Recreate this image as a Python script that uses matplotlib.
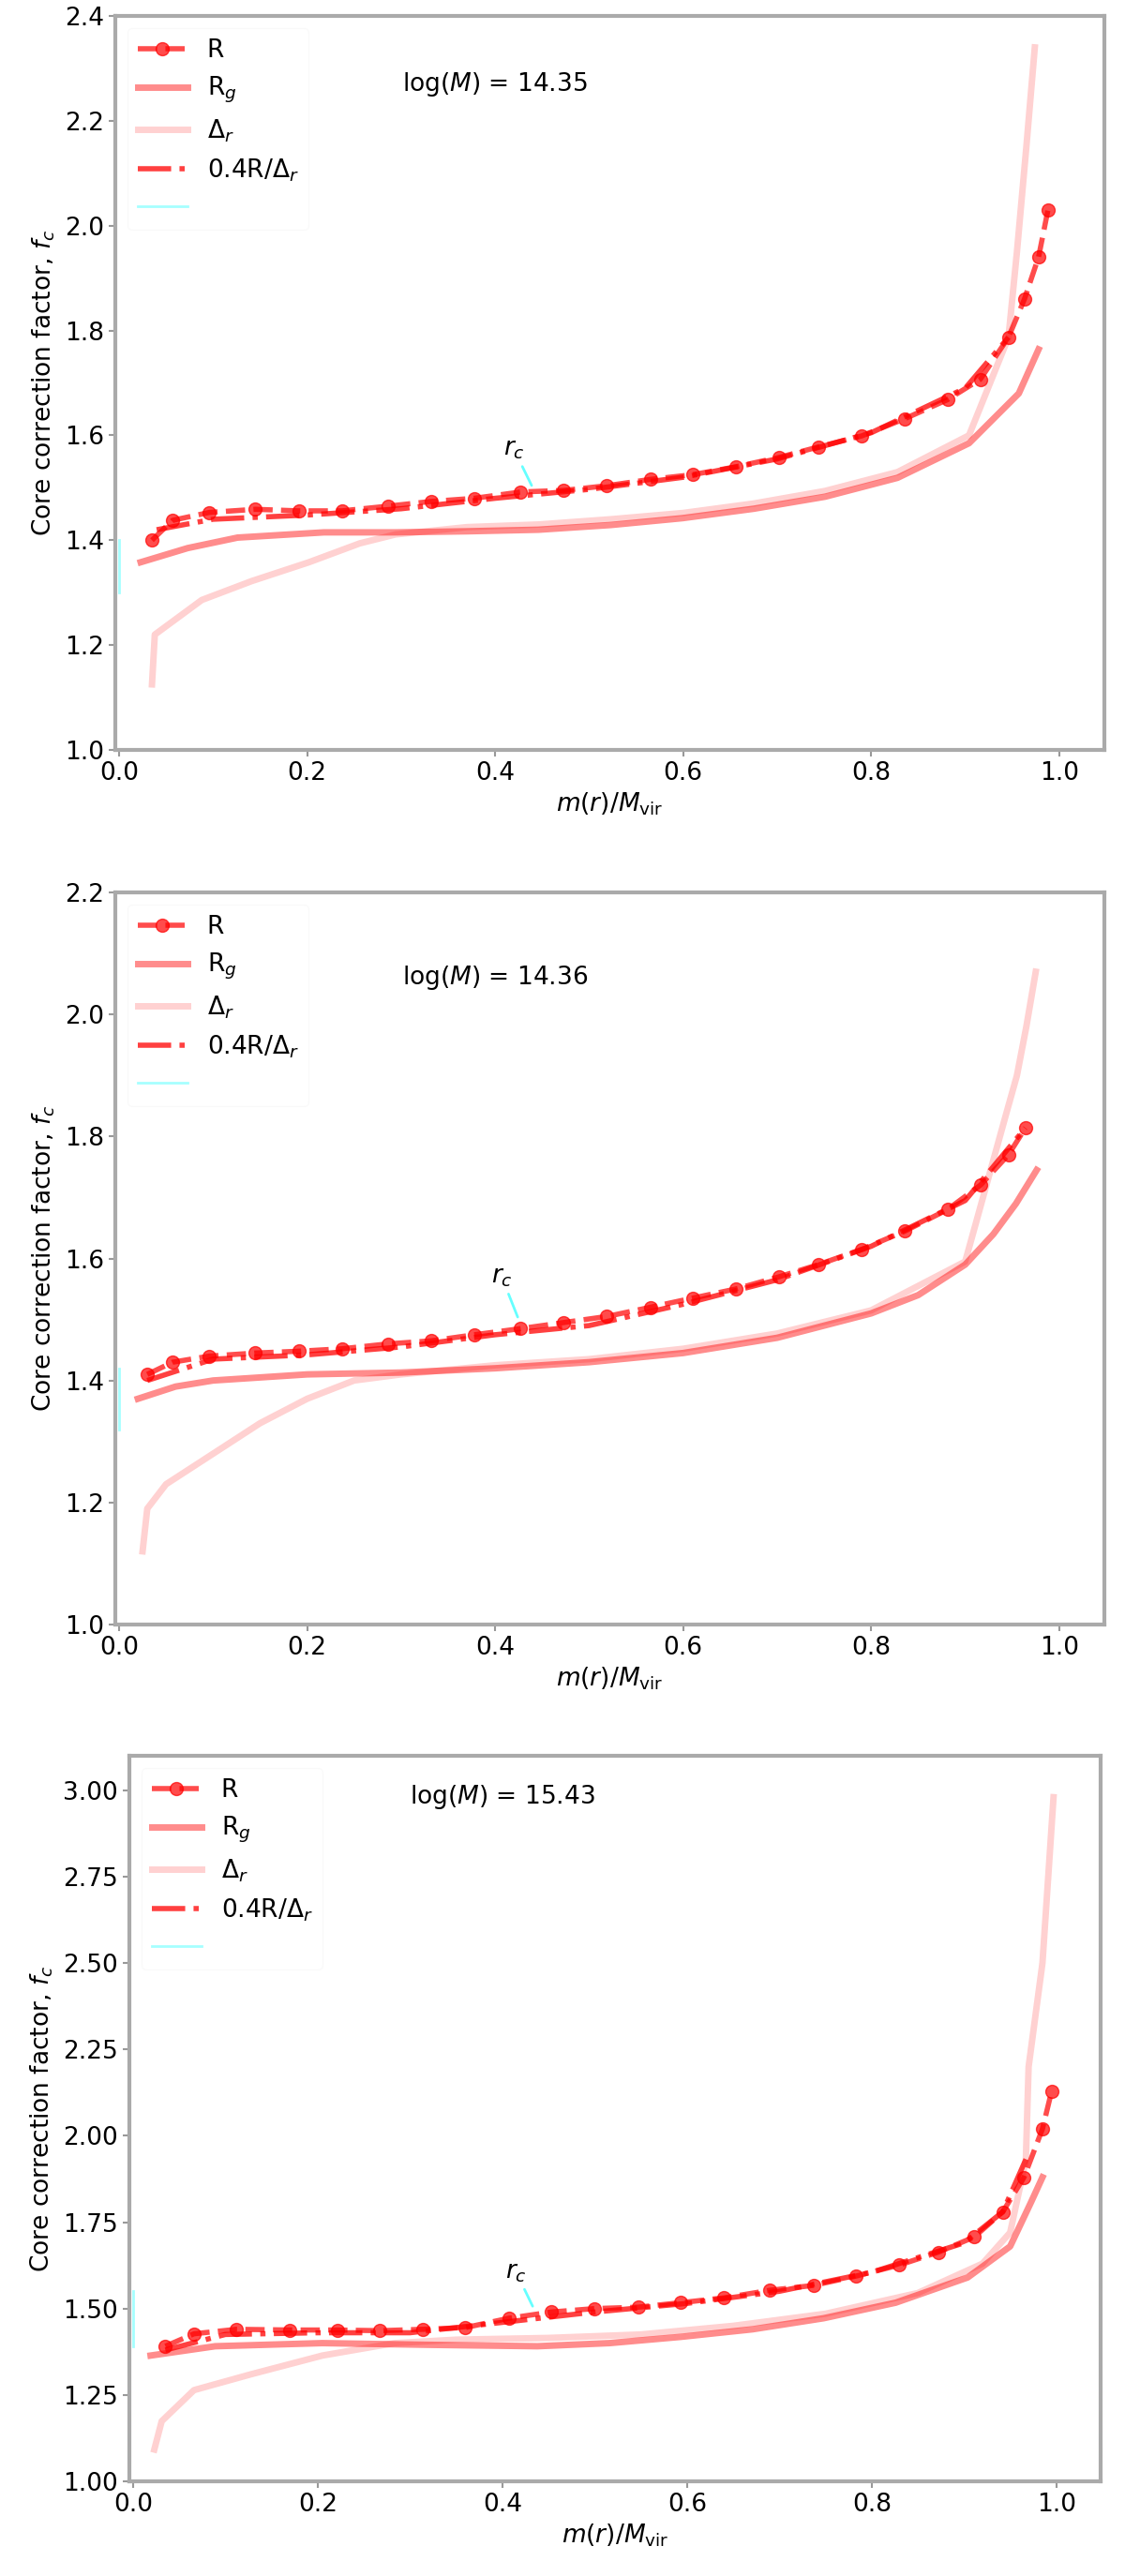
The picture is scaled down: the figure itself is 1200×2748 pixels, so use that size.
import numpy as np
import matplotlib
matplotlib.use("Agg")
import matplotlib.pyplot as plt
from matplotlib.ticker import FormatStrFormatter

# ---------------- data ----------------
labels = ["R", "R$_g$", r"$\Delta_r$", r"0.4R/$\Delta_r$", " "]
mass_text = [r"$\log(M)$ = 14.35", r"$\log(M)$ = 14.36", r"$\log(M)$ = 15.43"]
ylims = [(1.0, 2.4), (1.0, 2.2), (1.0, 3.1)]
yticks = [[1.0, 1.2, 1.4, 1.6, 1.8, 2.0, 2.2, 2.4],
          [1.0, 1.2, 1.4, 1.6, 1.8, 2.0, 2.2],
          [1.00, 1.25, 1.50, 1.75, 2.00, 2.25, 2.50, 2.75, 3.00]]
xticks = [0.0, 0.2, 0.4, 0.6, 0.8, 1.0]

# panel 1
p1_R_x = [0.035, 0.057, 0.096, 0.145, 0.191, 0.237, 0.286, 0.332, 0.378, 0.427, 0.473, 0.519, 0.565,
          0.610, 0.656, 0.702, 0.744, 0.790, 0.836, 0.881, 0.916, 0.946, 0.963, 0.978, 0.988]
p1_R_y = [1.40, 1.438, 1.453, 1.459, 1.456, 1.456, 1.465, 1.474, 1.48, 1.492, 1.495, 1.504, 1.516,
          1.525, 1.540, 1.558, 1.578, 1.599, 1.632, 1.668, 1.707, 1.787, 1.86, 1.94, 2.03]
p1_Rg_x = [0.023, 0.073, 0.126, 0.218, 0.294, 0.370, 0.446, 0.523, 0.599, 0.675, 0.751, 0.828, 0.904, 0.957, 0.978]
p1_Rg_y = [1.358, 1.385, 1.405, 1.415, 1.415, 1.417, 1.420, 1.429, 1.442, 1.46, 1.483, 1.519, 1.585, 1.68, 1.764]
p1_D_x = [0.035, 0.038, 0.088, 0.141, 0.202, 0.256, 0.294, 0.37, 0.446, 0.523, 0.6, 0.675, 0.751, 0.828,
          0.904, 0.946, 0.955, 0.965, 0.974]
p1_D_y = [1.125, 1.22, 1.286, 1.322, 1.358, 1.394, 1.411, 1.425, 1.43, 1.44, 1.452, 1.47, 1.494, 1.53,
          1.60, 1.787, 1.95, 2.15, 2.34]
p1_Q_x = [0.04, 0.1, 0.2, 0.3, 0.4, 0.5, 0.6, 0.7, 0.8, 0.9, 0.946]
p1_Q_y = [1.42, 1.44, 1.448, 1.46, 1.48, 1.497, 1.52, 1.555, 1.605, 1.69, 1.787]
p1_C_y = [1.30, 1.40]
p1_rc = [(0.42, 1.55), (0.44, 1.50)]

# panel 2
p2_R_x = [0.03, 0.057, 0.096, 0.145, 0.191, 0.237, 0.286, 0.332, 0.378, 0.427, 0.473, 0.519, 0.565,
          0.610, 0.656, 0.702, 0.744, 0.790, 0.836, 0.881, 0.916, 0.946, 0.964]
p2_R_y = [1.41, 1.43, 1.44, 1.445, 1.448, 1.452, 1.46, 1.465, 1.475, 1.485, 1.495, 1.505, 1.52,
          1.535, 1.55, 1.57, 1.59, 1.615, 1.645, 1.68, 1.72, 1.77, 1.814]
p2_Rg_x = [0.02, 0.06, 0.1, 0.2, 0.3, 0.4, 0.5, 0.6, 0.7, 0.8, 0.85, 0.9, 0.93, 0.954, 0.976]
p2_Rg_y = [1.37, 1.39, 1.40, 1.41, 1.413, 1.42, 1.43, 1.445, 1.47, 1.51, 1.54, 1.59, 1.64, 1.69, 1.745]
p2_D_x = [0.025, 0.03, 0.05, 0.08, 0.1, 0.15, 0.2, 0.25, 0.3, 0.4, 0.5, 0.6, 0.7, 0.8, 0.9,
          0.943, 0.955, 0.965, 0.975]
p2_D_y = [1.12, 1.19, 1.23, 1.26, 1.28, 1.33, 1.37, 1.40, 1.41, 1.425, 1.435, 1.452, 1.477, 1.515, 1.595,
          1.834, 1.90, 1.98, 2.07]
p2_Q_x = [0.03, 0.1, 0.2, 0.3, 0.4, 0.5, 0.6, 0.7, 0.8, 0.9, 0.964]
p2_Q_y = [1.40, 1.435, 1.442, 1.455, 1.475, 1.49, 1.525, 1.565, 1.62, 1.695, 1.814]
p2_C_y = [1.32, 1.42]
p2_rc = [(0.407, 1.55), (0.425, 1.50)]

# panel 3
p3_R_x = [0.035, 0.066, 0.112, 0.170, 0.221, 0.267, 0.314, 0.360, 0.407, 0.453, 0.5, 0.547, 0.593,
          0.640, 0.690, 0.737, 0.783, 0.830, 0.872, 0.911, 0.942, 0.965, 0.985, 0.995]
p3_R_y = [1.391, 1.427, 1.44, 1.438, 1.438, 1.436, 1.44, 1.445, 1.472, 1.49, 1.50, 1.504, 1.517,
          1.531, 1.553, 1.567, 1.594, 1.626, 1.663, 1.707, 1.78, 1.88, 2.02, 2.13]
p3_Rg_x = [0.019, 0.089, 0.205, 0.322, 0.438, 0.516, 0.593, 0.671, 0.748, 0.826, 0.904, 0.95, 0.973, 0.985]
p3_Rg_y = [1.364, 1.391, 1.40, 1.395, 1.391, 1.40, 1.418, 1.44, 1.472, 1.517, 1.59, 1.68, 1.81, 1.88]
p3_D_x = [0.023, 0.031, 0.066, 0.128, 0.205, 0.283, 0.35, 0.45, 0.55, 0.65, 0.75, 0.85, 0.92, 0.95,
          0.967, 0.97, 0.985, 0.997]
p3_D_y = [1.092, 1.174, 1.264, 1.31, 1.364, 1.40, 1.41, 1.415, 1.425, 1.45, 1.485, 1.545, 1.63, 1.72,
          1.93, 2.2, 2.5, 2.98]
p3_Q_x = [0.035, 0.1, 0.2, 0.3, 0.4, 0.5, 0.6, 0.7, 0.8, 0.9, 0.942, 0.97]
p3_Q_y = [1.38, 1.425, 1.43, 1.43, 1.46, 1.49, 1.515, 1.55, 1.605, 1.69, 1.78, 1.95]
p3_C_y = [1.39, 1.55]
p3_rc = [(0.415, 1.57), (0.434, 1.50)]

panels = [
    (p1_R_x, p1_R_y, p1_Rg_x, p1_Rg_y, p1_D_x, p1_D_y, p1_Q_x, p1_Q_y, p1_C_y, p1_rc),
    (p2_R_x, p2_R_y, p2_Rg_x, p2_Rg_y, p2_D_x, p2_D_y, p2_Q_x, p2_Q_y, p2_C_y, p2_rc),
    (p3_R_x, p3_R_y, p3_Rg_x, p3_Rg_y, p3_D_x, p3_D_y, p3_Q_x, p3_Q_y, p3_C_y, p3_rc),
]
text_y = [2.27, 2.06, 2.98]

# ---------------- layout ----------------
W, H = 1200, 2748
fig = plt.figure(figsize=(W / 100, H / 100), dpi=100)
boxes = [(123, 1178, 17, 800), (123, 1178, 952, 1733), (138, 1174, 1873, 2647)]
FS = 19

for i, (box, pdata) in enumerate(zip(boxes, panels)):
    l, r, t, b = box
    ax = fig.add_axes([l / W, 1 - b / H, (r - l) / W, (b - t) / H])
    Rx, Ry, Gx, Gy, Dx, Dy, Qx, Qy, Cy, rc = pdata
    ax.plot(Rx, Ry, color="red", ls="--", lw=4, marker="o", ms=10, alpha=0.7, label=labels[0])
    ax.plot(Gx, Gy, color="red", ls="-", lw=5, alpha=0.45, label=labels[1])
    ax.plot(Dx, Dy, color="red", ls="-", lw=5, alpha=0.18, label=labels[2])
    ax.plot(Qx, Qy, color="red", ls="-.", lw=4, alpha=0.75, label=labels[3])
    ax.plot([0.0, 0.0], Cy, color="cyan", lw=2, alpha=0.35, label=labels[4])
    ax.annotate(r"$r_c$", xy=rc[1], xytext=rc[0], fontsize=FS, ha="center", va="bottom",
                arrowprops=dict(arrowstyle="-", color="cyan", lw=2, alpha=0.6))
    ax.text(0.40, text_y[i], mass_text[i], fontsize=FS, ha="center", va="center")
    ax.set_xlim(-0.004, 1.048)
    ax.set_ylim(*ylims[i])
    ax.set_xticks(xticks)
    ax.set_yticks(yticks[i])
    ax.xaxis.set_major_formatter(FormatStrFormatter("%.1f"))
    ax.yaxis.set_major_formatter(FormatStrFormatter("%.2f" if i == 2 else "%.1f"))
    ax.tick_params(labelsize=FS, color="#999999", width=1.5, length=5)
    for s in ax.spines.values():
        s.set_color("#aaaaaa")
        s.set_linewidth(3)
    ax.set_xlabel(r"$m(r)/M_{\rm vir}$", fontsize=FS)
    ax.set_ylabel(r"Core correction factor, $f_c$", fontsize=FS, labelpad=6)
    leg = ax.legend(loc="upper left", fontsize=FS, frameon=True, framealpha=0.3,
                    edgecolor="#eeeeee", borderaxespad=0.5)

fig.savefig("out.png", dpi=100)
